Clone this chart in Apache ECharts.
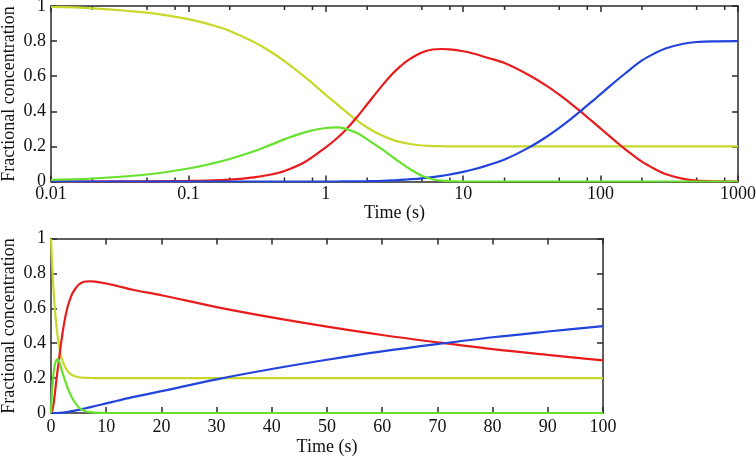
<!DOCTYPE html>
<html>
<head>
<meta charset="utf-8">
<script src="https://cdn.jsdelivr.net/npm/echarts@6/dist/echarts.min.js"></script>
<style>
html,body{margin:0;padding:0;background:#fff;}
#chart{width:756px;height:456px;}
</style>
</head>
<body>
<div id="chart"></div>
<script>
// Time points (s)
const times = [0, 0.01, 0.02, 0.05, 0.1, 0.15, 0.2, 0.3, 0.4, 0.5, 0.7, 1, 1.2, 1.4, 1.7, 2, 2.5, 3, 3.5, 4, 5, 6, 7, 8,
  10, 12, 15, 20, 30, 40, 50, 60, 70, 80, 90, 100, 130, 150, 200, 250, 300, 400, 500, 700, 1000];
// Yellow-green species
const speciesA = [1, 0.995, 0.987, 0.962, 0.925, 0.89, 0.858, 0.795, 0.738, 0.686, 0.597, 0.494, 0.442, 0.398, 0.345, 0.308, 0.266, 0.24, 0.224, 0.215, 0.205, 0.202, 0.201, 0.2,
  0.2, 0.2, 0.2, 0.2, 0.2, 0.2, 0.2, 0.2, 0.2, 0.2, 0.2, 0.2, 0.2, 0.2, 0.2, 0.2, 0.2, 0.2, 0.2, 0.2, 0.2];
// Green species
const speciesB = [0, 0.009, 0.017, 0.04, 0.074, 0.103, 0.128, 0.172, 0.21, 0.24, 0.28, 0.305, 0.308, 0.3, 0.275, 0.24, 0.19, 0.145, 0.107, 0.076, 0.033, 0.013, 0.005, 0.002,
  0, 0, 0, 0, 0, 0, 0, 0, 0, 0, 0, 0, 0, 0, 0, 0, 0, 0, 0, 0, 0];
// Red species
const speciesC = [0, 0, 0, 0.001, 0.003, 0.006, 0.011, 0.024, 0.04, 0.06, 0.11, 0.195, 0.245, 0.295, 0.37, 0.44, 0.535, 0.607, 0.657, 0.693, 0.735, 0.752, 0.755, 0.753,
  0.742, 0.728, 0.705, 0.675, 0.607, 0.548, 0.495, 0.447, 0.405, 0.366, 0.333, 0.302, 0.226, 0.186, 0.113, 0.07, 0.041, 0.015, 0.005, 0.001, 0];
// Blue species
const speciesD = [0, 0, 0, 0, 0, 0, 0, 0, 0, 0, 0, 0, 0, 0.0005, 0.001, 0.002, 0.004, 0.006, 0.009, 0.012, 0.018, 0.025, 0.032, 0.04,
  0.055, 0.07, 0.092, 0.125, 0.193, 0.252, 0.305, 0.353, 0.395, 0.434, 0.467, 0.498, 0.574, 0.614, 0.69, 0.732, 0.759, 0.785, 0.795, 0.799, 0.8];

const logMinorTicks = [0.02, 0.05, 0.08, 0.2, 0.5, 0.8, 2, 5, 8, 20, 50, 80, 200, 500, 800];
const axisLabelText = 'Fractional concentration';
const timeLabelText = 'Time (s)';

const colors = { A: '#c6d82a', B: '#66e22c', C: '#e81c1c', D: '#2244dd' };
const FONT = 'Liberation Serif';
const FS = 18;
const frame = { color: '#2a2a2a', width: 1.5 };

function pairs(arr, filt) {
  const out = [];
  times.forEach((t, i) => { if (filt(t)) out.push([t, arr[i]]); });
  return out;
}
const logFilt = t => t > 0;
const linFilt = t => t <= 100;

function lineSeries(arr, color, xi, yi, filt) {
  return {
    type: 'line', xAxisIndex: xi, yAxisIndex: yi, data: pairs(arr, filt),
    showSymbol: false, smooth: 0.35, lineStyle: { color: color, width: 2.2 },
    itemStyle: { color: color }, silent: true, animation: false
  };
}

function xAx(grid, type, pos, opts) {
  const base = {
    gridIndex: grid, type: type, position: pos,
    axisLine: { show: true, onZero: false, lineStyle: { color: frame.color, width: frame.width } },
    axisTick: { show: true, inside: true, length: 6, lineStyle: { color: frame.color, width: 1.5 } },
    axisLabel: { show: false },
    splitLine: { show: false }, minorTick: { show: false }
  };
  return Object.assign(base, opts);
}
function yAx(grid, pos, opts) {
  return Object.assign({
    gridIndex: grid, type: 'value', position: pos, min: 0, max: 1, interval: 0.2,
    axisLine: { show: true, onZero: false, lineStyle: { color: frame.color, width: frame.width } },
    axisTick: { show: true, inside: true, length: 6, lineStyle: { color: frame.color, width: 1.5 } },
    axisLabel: { show: pos === 'left', fontFamily: FONT, fontSize: FS, color: '#111', margin: 5 },
    splitLine: { show: false }
  }, opts);
}
const fmtNum = v => String(Number(Number(v).toPrecision(6)));
const nameStyle = { fontFamily: FONT, fontSize: FS, color: '#111' };

function yTitle(cy) {
  return {
    type: 'text', x: 9, y: cy, rotation: Math.PI / 2, silent: true,
    style: { text: axisLabelText, font: FS + 'px "' + FONT + '"', fill: '#111',
      textAlign: 'center', textVerticalAlign: 'middle' }
  };
}

const option = {
  animation: false,
  backgroundColor: '#fff',
  grid: [
    { left: 51, top: 6, width: 687, height: 175.5, containLabel: false, outerBoundsMode: 'none' },
    { left: 51, top: 238.5, width: 552, height: 174.5, containLabel: false, outerBoundsMode: 'none' }
  ],
  graphic: [ yTitle(94), yTitle(326) ],
  xAxis: [
    xAx(0, 'log', 'bottom', { min: 0.01, max: 1000, logBase: 10,
      axisLabel: { show: true, fontFamily: FONT, fontSize: FS, color: '#111', margin: 4, formatter: fmtNum },
      name: timeLabelText, nameLocation: 'middle', nameGap: 21, nameTextStyle: nameStyle }),
    xAx(0, 'log', 'top', { min: 0.01, max: 1000, logBase: 10 }),
    xAx(1, 'value', 'bottom', { min: 0, max: 100, interval: 10,
      axisLabel: { show: true, fontFamily: FONT, fontSize: FS, color: '#111', margin: 5, formatter: fmtNum },
      name: timeLabelText, nameLocation: 'middle', nameGap: 25, nameTextStyle: nameStyle }),
    xAx(1, 'value', 'top', { min: 0, max: 100, interval: 10 })
  ],
  yAxis: [
    yAx(0, 'left', {}),
    yAx(0, 'right', {}),
    yAx(1, 'left', {}),
    yAx(1, 'right', {})
  ],
  series: [
    lineSeries(speciesA, colors.A, 0, 0, logFilt),
    lineSeries(speciesC, colors.C, 0, 0, logFilt),
    lineSeries(speciesD, colors.D, 0, 0, logFilt),
    lineSeries(speciesB, colors.B, 0, 0, logFilt),
    lineSeries(speciesA, colors.A, 2, 2, linFilt),
    lineSeries(speciesC, colors.C, 2, 2, linFilt),
    lineSeries(speciesD, colors.D, 2, 2, linFilt),
    lineSeries(speciesB, colors.B, 2, 2, linFilt),
    {
      type: 'custom', xAxisIndex: 0, yAxisIndex: 0, silent: true, clip: false, z: 3,
      data: logMinorTicks.map(t => [t, 0]),
      renderItem: function (params, api) {
        const t = api.value(0);
        const p0 = api.coord([t, 0]);
        const p1 = api.coord([t, 1]);
        const st = { stroke: frame.color, lineWidth: 1.5 };
        return { type: 'group', children: [
          { type: 'line', shape: { x1: p0[0], y1: p0[1], x2: p0[0], y2: p0[1] - 4 }, style: st },
          { type: 'line', shape: { x1: p1[0], y1: p1[1], x2: p1[0], y2: p1[1] + 4 }, style: st }
        ] };
      }
    }
  ]
};

const chart = echarts.init(document.getElementById('chart'), null, { renderer: 'canvas' });
chart.setOption(option);
</script>
</body>
</html>
